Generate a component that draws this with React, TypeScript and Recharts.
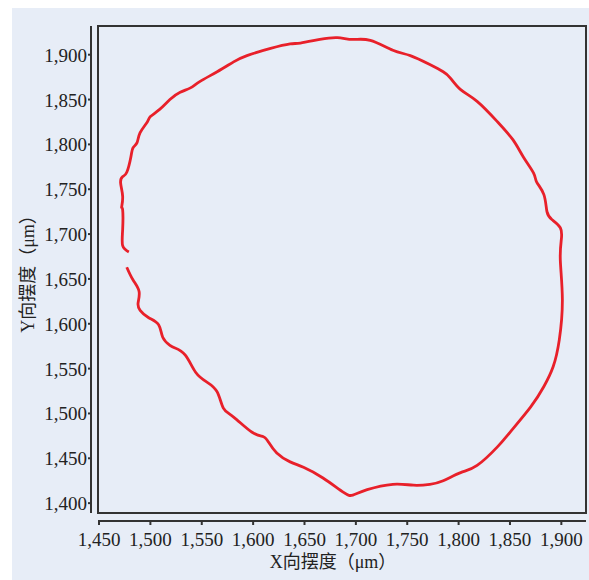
import React from 'react';
import { LineChart, Line, XAxis, YAxis, ReferenceArea, ReferenceLine } from 'recharts';

// axis ticks
const xTicks = [1450, 1500, 1550, 1600, 1650, 1700, 1750, 1800, 1850, 1900];
const yTicks = [1400, 1450, 1500, 1550, 1600, 1650, 1700, 1750, 1800, 1850, 1900];

// orbit trace, clockwise from the upper end of the gap on the left
const orbitX = [
  1479, 1473, 1473, 1473, 1472, 1473, 1471, 1473, 1477, 1481, 1483, 1487, 1490, 1497, 1500,
  1509, 1519, 1529, 1539, 1548, 1565, 1581, 1594, 1617, 1636, 1646, 1665, 1682, 1697, 1714,
  1736, 1753, 1772, 1785, 1792, 1802, 1818, 1838, 1853, 1863, 1873, 1876, 1883, 1886, 1891,
  1899, 1900, 1899, 1901, 1898, 1892, 1883, 1870, 1850, 1838, 1818, 1802, 1785, 1772, 1756,
  1736, 1711, 1697, 1688, 1668, 1649, 1636, 1623, 1615, 1610, 1599, 1581, 1571, 1565, 1555,
  1544, 1534, 1524, 1519, 1512, 1508, 1498, 1490, 1488, 1489, 1483, 1477,
];
const orbitY = [
  1680, 1687, 1705, 1727, 1730, 1742, 1757, 1764, 1769, 1786, 1796, 1802, 1813, 1825, 1831,
  1839, 1850, 1858, 1863, 1870, 1881, 1892, 1899, 1907, 1912, 1913, 1917, 1919, 1917, 1916,
  1905, 1899, 1889, 1881, 1874, 1861, 1848, 1825, 1805, 1786, 1768, 1758, 1744, 1725, 1716,
  1707, 1694, 1671, 1627, 1582, 1552, 1530, 1507, 1479, 1463, 1442, 1434, 1425, 1421, 1420,
  1421, 1415, 1409, 1412, 1428, 1440, 1446, 1456, 1468, 1474, 1479, 1496, 1506, 1524, 1535,
  1546, 1565, 1573, 1576, 1585, 1599, 1607, 1615, 1623, 1636, 1649, 1663,
];

const data = orbitX.map((x, i) => ({ x, y: orbitY[i] }));

const xDomain = [1449, 1924];
const yDomain = [1389, 1932];
const plotW = 488;
const plotH = 487;
// axes sit a few pixels away from the frame
const gapX = 7;
const gapY = 8;
const yAxisAt = xDomain[0] - (gapX * (xDomain[1] - xDomain[0])) / plotW;
const xAxisAt = yDomain[0] - (gapY * (yDomain[1] - yDomain[0])) / plotH;

const ink = '#333';
const font = '"Liberation Serif", "Noto Sans CJK SC", serif';
const fmt = (v: number) => v.toLocaleString('en-US');

const XTick = (props: any) => {
  const { x, y, payload } = props;
  return (
    <g>
      <line x1={x} x2={x} y1={y + gapY} y2={y + gapY + 4} stroke={ink} strokeWidth={2} />
      <text x={x} y={y + 33} textAnchor="middle" fontSize={19} fill="#222" fontFamily={font}>
        {fmt(payload.value)}
      </text>
    </g>
  );
};

const YTick = (props: any) => {
  const { x, y, payload } = props;
  return (
    <g>
      <line x1={x - gapX} x2={x - gapX - 3} y1={y} y2={y} stroke={ink} strokeWidth={2} />
      <text x={x - gapX - 4} y={y + 7} textAnchor="end" fontSize={19} fill="#222" fontFamily={font}>
        {fmt(payload.value)}
      </text>
    </g>
  );
};

const XTitle = (props: any) => {
  const { x, y, width } = props.viewBox;
  return (
    <text x={x + width / 2 - 9} y={y + 55} textAnchor="middle" fontSize={18} fill="#222" fontFamily={font}>
      X向摆度（μm）
    </text>
  );
};

const YTitle = (props: any) => {
  const { x, y, height } = props.viewBox;
  const cx = x + 16;
  const cy = y + height / 2;
  return (
    <text
      x={cx}
      y={cy}
      textAnchor="middle"
      dominantBaseline="central"
      transform={`rotate(-90, ${cx}, ${cy})`}
      fontSize={18}
      fill="#222"
      fontFamily={font}
    >
      Y向摆度（μm）
    </text>
  );
};

const App = () => {
  return (
    <div style={{ position: 'absolute', left: 12, top: 8, width: 577, height: 572, background: '#e7edf7' }}>
      <LineChart width={577} height={572} data={data} margin={{ top: 18, right: 3, left: 0, bottom: 0 }}>
        <XAxis
          dataKey="x"
          type="number"
          domain={xDomain}
          ticks={xTicks}
          height={67}
          tickSize={0}
          tickMargin={0}
          axisLine={false}
          tickLine={false}
          tick={<XTick />}
          allowDataOverflow
          label={<XTitle />}
        />
        <YAxis
          dataKey="y"
          type="number"
          domain={yDomain}
          ticks={yTicks}
          width={86}
          tickSize={0}
          tickMargin={0}
          axisLine={false}
          tickLine={false}
          tick={<YTick />}
          allowDataOverflow
          label={<YTitle />}
        />
        <ReferenceArea
          x1={xDomain[0]}
          x2={xDomain[1]}
          y1={yDomain[0]}
          y2={yDomain[1]}
          fill="none"
          stroke={ink}
          strokeWidth={2}
          ifOverflow="visible"
        />
        <ReferenceLine x={yAxisAt} stroke={ink} strokeWidth={2} ifOverflow="visible" />
        <ReferenceLine y={xAxisAt} stroke={ink} strokeWidth={2} ifOverflow="visible" />
        <Line
          type="natural"
          dataKey="y"
          stroke="#e8202a"
          strokeWidth={2.8}
          dot={false}
          isAnimationActive={false}
        />
      </LineChart>
    </div>
  );
};

export default App;
